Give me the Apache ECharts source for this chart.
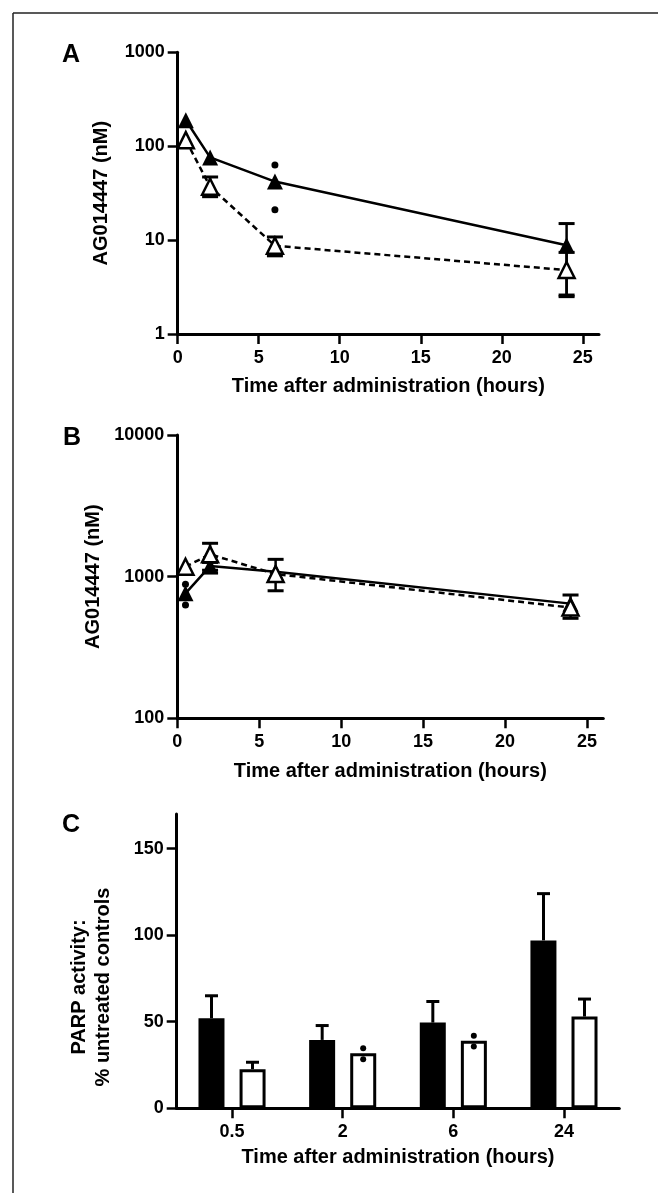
<!DOCTYPE html>
<html>
<head>
<meta charset="utf-8">
<script src="https://cdn.jsdelivr.net/npm/echarts@6/dist/echarts.min.js"></script>
<style>
html, body { margin: 0; padding: 0; background: #fff; }
#chart { width: 658px; height: 1193px; }
</style>
</head>
<body>
<div id="chart"></div>
<script>
// ---- data ----
var timesA = [0.5, 2, 6, 24];
var xTicks = [0, 5, 10, 15, 20, 25];

// Panel A, AG014447 nM
var aFilled = [189, 76, 42, 8.8];
var aOpen = [116, 37, 8.7, 4.8];
// error bars [time, low, high]
var aFilledErr = [[24, 2.6, 15]];
var aOpenErr = [[2, 29, 47], [6, 6.8, 10.8], [24, 2.5, 7.4]];
// individual points
var aFilledDots = [[6, 63], [6, 21]];

// Panel B
var bFilled = [762, 1188, 1083, 645];
var bOpen = [1175, 1437, 1043, 605];
var bFilledErr = [[2, 1110, 1260]];
var bOpenErr = [[2, 1060, 1720], [6, 795, 1325], [24, 508, 742]];
var bFilledDots = [[0.5, 883], [0.5, 630]];

// Panel C: PARP activity
var catsC = ['0.5', '2', '6', '24'];
var cFilled = [52, 39.5, 49.5, 97];
var cOpen = [22.6, 31.8, 39, 53];
var cFilledUpper = [65, 47.8, 61.7, 124];
var cOpenUpper = [26.6, null, null, 63.1];
var cOpenDots = [[1, 34.7], [1, 28.4], [2, 41.9], [2, 35.7]];
var yTicksC = [0, 50, 100, 150];

// ---- helpers ----
var FONT = 'Liberation Sans, Arial, sans-serif';
var BAR_SHIFT = 20.5;   // half distance between the two bar centres

function pairs(xs, ys) {
	var out = [];
	for (var i = 0; i < xs.length; i++) out.push([xs[i], ys[i]]);
	return out;
}

function errorBarItem(params, api) {
	var x = api.value(0);
	var lo = api.coord([x, api.value(1)]);
	var hi = api.coord([x, api.value(2)]);
	var half = 8;
	var cap = { stroke: '#000', lineWidth: 3 };
	return {
		type: 'group',
		children: [
			{ type: 'line', shape: { x1: hi[0], y1: hi[1], x2: lo[0], y2: lo[1] }, style: { stroke: '#000', lineWidth: 2.5 } },
			{ type: 'line', shape: { x1: hi[0] - half, y1: hi[1], x2: hi[0] + half, y2: hi[1] }, style: cap },
			{ type: 'line', shape: { x1: lo[0] - half, y1: lo[1], x2: lo[0] + half, y2: lo[1] }, style: cap }
		]
	};
}

// whisker above the bar only
function upperBarItem(shift) {
	return function (params, api) {
		var c = api.value(0);
		var top = api.coord([c, api.value(1)]);
		var hi = api.coord([c, api.value(2)]);
		var x = top[0] + shift;
		return {
			type: 'group',
			children: [
				{ type: 'line', shape: { x1: x, y1: top[1], x2: x, y2: hi[1] }, style: { stroke: '#000', lineWidth: 3 } },
				{ type: 'line', shape: { x1: x - 6.5, y1: hi[1], x2: x + 6.5, y2: hi[1] }, style: { stroke: '#000', lineWidth: 3 } }
			]
		};
	};
}

function plainNum(v) {
	return String(Math.round(v * 1000) / 1000);
}

function axisBase() {
	return {
		axisLine: { show: true, lineStyle: { color: '#000', width: 3 } },
		axisTick: { show: true, length: 10, lineStyle: { color: '#000', width: 2.5 } },
		axisLabel: { color: '#000', fontFamily: FONT, fontWeight: 'bold', fontSize: 18, margin: 13, formatter: plainNum },
		splitLine: { show: false },
		nameTextStyle: { color: '#000', fontFamily: FONT, fontWeight: 'bold', fontSize: 20 }
	};
}

function timeAxis(gridIndex, gap) {
	var ax = axisBase();
	ax.type = 'value';
	ax.gridIndex = gridIndex;
	ax.min = 0;
	ax.max = 26;
	ax.name = 'Time after administration (hours)';
	ax.nameLocation = 'middle';
	ax.nameGap = gap;
	ax.axisTick.customValues = xTicks;
	ax.axisLabel.customValues = xTicks;
	ax.axisLabel.margin = 15;
	return ax;
}

function logAxis(gridIndex, min, max) {
	var ax = axisBase();
	ax.type = 'log';
	ax.logBase = 10;
	ax.gridIndex = gridIndex;
	ax.min = min;
	ax.max = max;
	ax.name = 'AG014447 (nM)';
	ax.nameLocation = 'middle';
	ax.nameGap = 66;
	ax.minorTick = { show: false };
	return ax;
}

// x/y axes for C
var xAxisC = axisBase();
xAxisC.type = 'category';
xAxisC.gridIndex = 2;
xAxisC.data = catsC;
xAxisC.axisTick.alignWithLabel = true;
xAxisC.axisLabel.margin = 15;
xAxisC.axisLabel.formatter = null;
xAxisC.name = 'Time after administration (hours)';
xAxisC.nameLocation = 'middle';
xAxisC.nameGap = 39;

var yAxisC = axisBase();
yAxisC.type = 'value';
yAxisC.gridIndex = 2;
yAxisC.min = 0;
yAxisC.max = 170;
yAxisC.axisTick.customValues = yTicksC;
yAxisC.axisLabel.customValues = yTicksC;

function lineSeries(idx, data, filled) {
	return {
		type: 'line',
		xAxisIndex: idx,
		yAxisIndex: idx,
		data: data,
		symbol: 'triangle',
		symbolSize: 16,
		showAllSymbol: true,
		z: filled ? 3 : 4,
		itemStyle: filled
			? { color: '#000' }
			: { color: '#fff', borderColor: '#000', borderWidth: 2.5 },
		lineStyle: { color: '#000', width: 2.5, type: filled ? 'solid' : [6, 4] }
	};
}

function errSeries(idx, data) {
	return {
		type: 'custom',
		xAxisIndex: idx,
		yAxisIndex: idx,
		data: data,
		encode: { x: 0, y: [1, 2] },
		renderItem: errorBarItem,
		z: 2
	};
}

function dotSeries(idx, data) {
	return {
		type: 'scatter',
		xAxisIndex: idx,
		yAxisIndex: idx,
		data: data,
		symbol: 'circle',
		symbolSize: 7,
		itemStyle: { color: '#000', opacity: 1 },
		z: 5
	};
}

var upperFilledData = [], upperOpenData = [];
for (var i = 0; i < catsC.length; i++) {
	if (cFilledUpper[i] != null) upperFilledData.push([i, cFilled[i], cFilledUpper[i]]);
	if (cOpenUpper[i] != null) upperOpenData.push([i, cOpen[i], cOpenUpper[i]]);
}

var chart = echarts.init(document.getElementById('chart'), null, { renderer: 'canvas' });
var option = {
	animation: false,
	backgroundColor: '#fff',
	grid: [
		{ left: 177.7, top: 52.3, width: 421.3, height: 281.7 },
		{ left: 177.3, top: 435, width: 426, height: 283.3 },
		{ left: 176.7, top: 814, width: 442.6, height: 294.3 }
	],
	xAxis: [timeAxis(0, 42), timeAxis(1, 43), xAxisC],
	yAxis: [logAxis(0, 1, 1000), logAxis(1, 100, 10000), yAxisC],
	graphic: [
		{ type: 'line', shape: { x1: 13, y1: 13, x2: 658, y2: 13 }, style: { stroke: '#222', lineWidth: 1.5 } },
		{ type: 'line', shape: { x1: 13, y1: 13, x2: 13, y2: 1193 }, style: { stroke: '#222', lineWidth: 1.5 } },
		{ type: 'text', left: 62, top: 43, style: { text: 'A', font: 'bold 25px ' + FONT, fill: '#000' } },
		{ type: 'text', left: 63, top: 426, style: { text: 'B', font: 'bold 25px ' + FONT, fill: '#000' } },
		{ type: 'text', left: 62, top: 813, style: { text: 'C', font: 'bold 25px ' + FONT, fill: '#000' } },
		// y title of panel C (two lines, sits a bit below the axis middle)
		{
			type: 'text',
			x: 91,
			y: 987,
			rotation: Math.PI / 2,
			style: {
				text: 'PARP activity:\n% untreated controls',
				font: 'bold 20px ' + FONT,
				fill: '#000',
				align: 'center',
				verticalAlign: 'middle',
				lineHeight: 24
			}
		}
	],
	series: [
		// A
		errSeries(0, aFilledErr),
		errSeries(0, aOpenErr),
		lineSeries(0, pairs(timesA, aFilled), true),
		lineSeries(0, pairs(timesA, aOpen), false),
		dotSeries(0, aFilledDots),
		// B
		errSeries(1, bFilledErr),
		errSeries(1, bOpenErr),
		lineSeries(1, pairs(timesA, bFilled), true),
		lineSeries(1, pairs(timesA, bOpen), false),
		dotSeries(1, bFilledDots),
		// C
		{
			type: 'bar',
			xAxisIndex: 2,
			yAxisIndex: 2,
			data: cFilled,
			barWidth: 26,
			barGap: '58%',
			itemStyle: { color: '#000', borderColor: '#000', borderWidth: 3 }
		},
		{
			type: 'bar',
			xAxisIndex: 2,
			yAxisIndex: 2,
			data: cOpen,
			barWidth: 26,
			itemStyle: { color: '#fff', borderColor: '#000', borderWidth: 3 }
		},
		{
			type: 'custom',
			xAxisIndex: 2,
			yAxisIndex: 2,
			data: upperFilledData,
			encode: { x: 0, y: [1, 2] },
			renderItem: upperBarItem(-BAR_SHIFT),
			z: 3
		},
		{
			type: 'custom',
			xAxisIndex: 2,
			yAxisIndex: 2,
			data: upperOpenData,
			encode: { x: 0, y: [1, 2] },
			renderItem: upperBarItem(BAR_SHIFT),
			z: 3
		},
		{
			type: 'custom',
			xAxisIndex: 2,
			yAxisIndex: 2,
			data: cOpenDots,
			encode: { x: 0, y: 1 },
			renderItem: function (params, api) {
				var p = api.coord([api.value(0), api.value(1)]);
				return { type: 'circle', shape: { cx: p[0] + BAR_SHIFT, cy: p[1], r: 3 }, style: { fill: '#000' } };
			},
			z: 4
		}
	]
};
chart.setOption(option);
</script>
</body>
</html>
